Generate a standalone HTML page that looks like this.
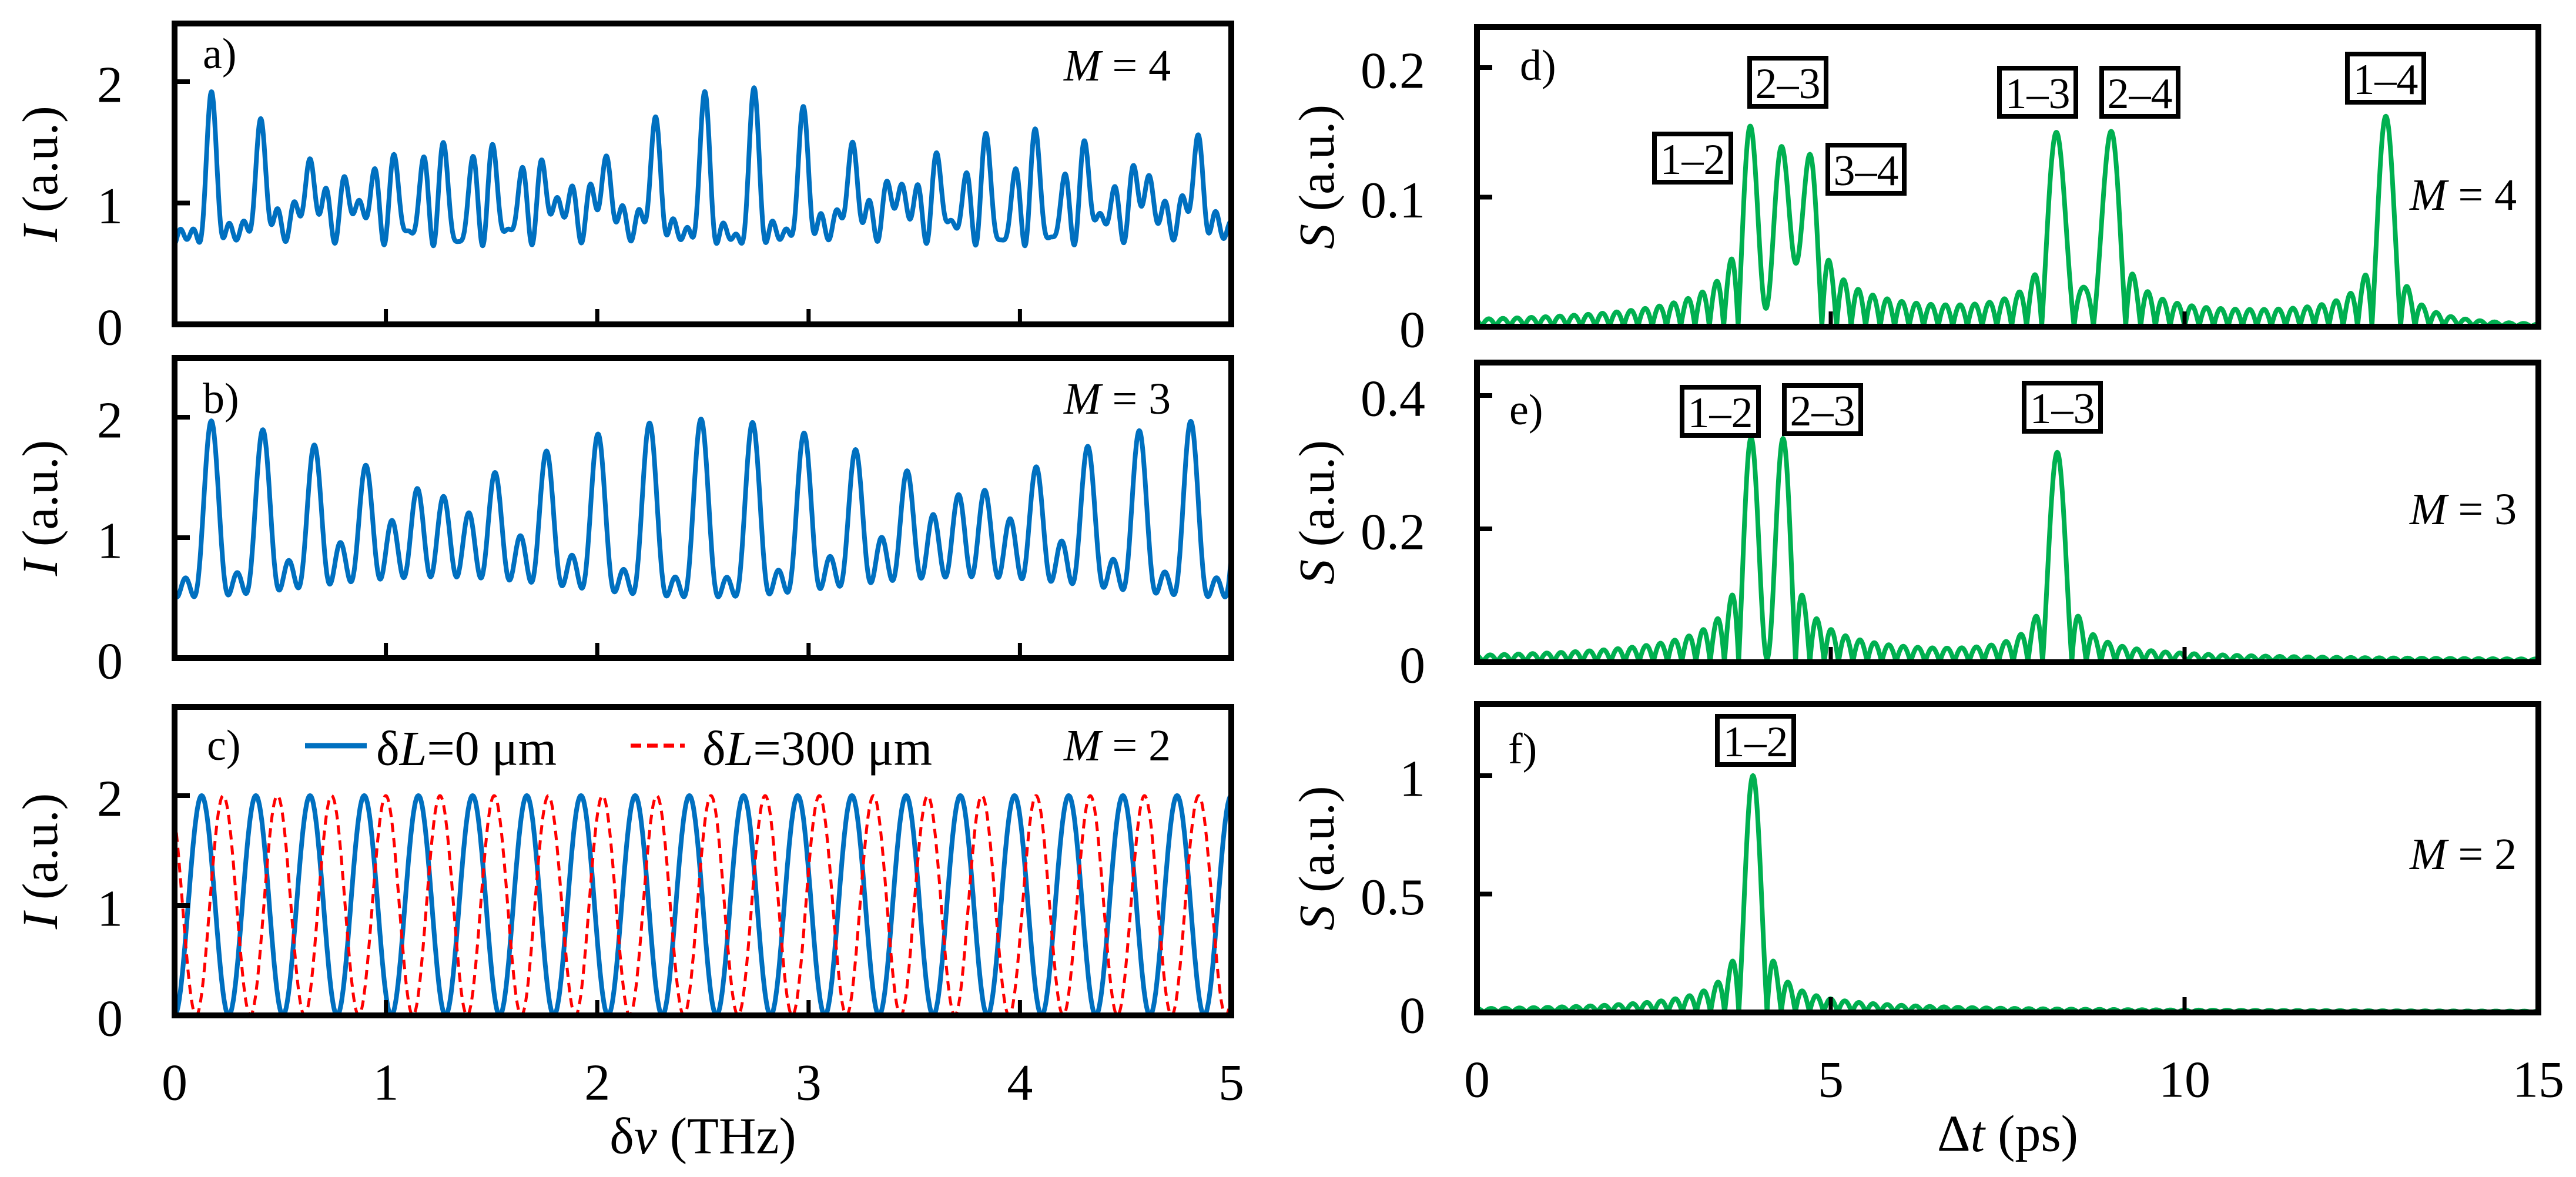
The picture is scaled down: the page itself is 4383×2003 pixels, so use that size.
<!DOCTYPE html>
<html><head><meta charset="utf-8"><style>
html,body{margin:0;padding:0;background:#fff;}
svg{display:block;}
text{font-family:"Liberation Serif",serif;fill:#000;}
</style></head><body>
<svg id="fig" width="4383" height="2003" viewBox="0 0 4383 2003" xmlns="http://www.w3.org/2000/svg"></svg>
<script>
// ---------- DATA ----------
const freqTicks = [0,1,2,3,4,5];
const timeTicks = [0,5,10,15];
// M=4 (panel a / d)
const pairLabelsM4 = ['1–2','2–3','3–4','1–3','2–4','1–4'];
const pairDelaysM4 = [3.9,4.3,4.65,8.2,8.95,12.85];
const pairAmpsM4 = [0.157,0.162,0.152,0.168,0.168,0.165];
const pairPhasesM4 = [1.571,1.571,1.571,3.142,3.142,4.712];
// M=3 (panel b / e)
const pairLabelsM3 = ['1–2','2–3','1–3'];
const pairDelaysM3 = [3.9,4.3,8.2];
const pairAmpsM3 = [0.33,0.33,0.325];
const pairPhasesM3 = [1.8,1.8,3.6];
// M=2 (panel c / f)
const pairLabelsM2 = ['1–2'];
const pairDelaysM2 = [3.9];
const pairAmpsM2 = [1.0];
const pairPhasesM2 = [3.1416];
const pairDelaysM2shift = [3.9];
const pairPhasesM2shift = [0.64];
const sincWidthPs = 0.2;

const yTicksA = [0,1,2], yTicksB=[0,1,2], yTicksC=[0,1,2];
const yTicksD = [0,0.1,0.2], yTicksE=[0,0.2,0.4], yTicksF=[0,0.5,1];
const yTickLabelsD=['0','0.1','0.2'], yTickLabelsE=['0','0.2','0.4'], yTickLabelsF=['0','0.5','1'];

// ---------- helpers ----------
const NS='http://www.w3.org/2000/svg';
const svg=document.getElementById('fig');
function mk(tag,attrs,parent){const e=document.createElementNS(NS,tag);for(const k in attrs)e.setAttribute(k,attrs[k]);(parent||svg).appendChild(e);return e;}
function txt(s,x,y,size,anchor,parent,style){const t=mk('text',{x:x,y:y,'font-size':size,'text-anchor':anchor||'middle','dominant-baseline':'central'},parent);if(style)t.setAttribute('style',style);t.innerHTML=s;return t;}

function intensity(nu,delays,amps,phases){let s=1;for(let i=0;i<delays.length;i++)s+=amps[i]*Math.cos(2*Math.PI*nu*delays[i]+phases[i]);return s;}
function sinc(x){if(Math.abs(x)<1e-9)return 1;return Math.sin(Math.PI*x)/(Math.PI*x);}
function spectrum(t,delays,amps){let s=0;for(let i=0;i<delays.length;i++)s+=amps[i]*sinc((t-delays[i])/sincWidthPs);return Math.abs(s);}

function makePanel(cfg){
  const g=mk('g',{});
  
  
  const sx=v=>cfg.x0+(v-cfg.xmin)/(cfg.xmax-cfg.xmin)*(cfg.x1-cfg.x0);
  const sy=v=>cfg.yz-v*cfg.ys;
  const cid='clip-'+cfg.name;
  const cp=mk('clipPath',{id:cid},g);mk('rect',{x:cfg.x0,y:cfg.top,width:cfg.x1-cfg.x0,height:cfg.yz-cfg.top},cp);
  cfg.series.forEach(s=>{
    let d='';
    for(let i=0;i<=s.n;i++){const v=cfg.xmin+(cfg.xmax-cfg.xmin)*i/s.n;const y=s.f(v);d+=(i?'L':'M')+sx(v).toFixed(1)+' '+sy(y).toFixed(1);}
    const p=mk('path',{d:d,fill:'none',stroke:s.color,'stroke-width':s.w,'stroke-linejoin':'round','clip-path':'url(#'+cid+')'},g);
    if(s.dash)p.setAttribute('stroke-dasharray',s.dash);
    
    
  });
  const fr=mk('rect',{x:cfg.x0,y:cfg.top,width:cfg.x1-cfg.x0,height:cfg.yz-cfg.top,fill:'none',stroke:'#000','stroke-width':10},g);
  
  
  cfg.xticks.forEach(v=>{if(v===cfg.xmin||v===cfg.xmax)return;const l=mk('line',{x1:sx(v),x2:sx(v),y1:cfg.yz,y2:cfg.yz-26,stroke:'#000','stroke-width':7},g);
    
    });
  cfg.yticks.forEach((v,i)=>{if(v!==0){const l=mk('line',{x1:cfg.x0,x2:cfg.x0+26,y1:sy(v),y2:sy(v),stroke:'#000','stroke-width':8},g);
    
    }
    const t=txt(cfg.ylabels?cfg.ylabels[i]:String(v),cfg.x0-88,sy(v)+6,88,'end',g);
    
    });
  const yt=mk('text',{x:0,y:0,'font-size':86,'text-anchor':'middle','dominant-baseline':'central',transform:'translate('+cfg.ytx+','+((cfg.top+cfg.yz)/2)+') rotate(-90)'},g);
  yt.innerHTML=cfg.ytitle;
  
  
  const pl=txt(cfg.label,cfg.lx,cfg.ly,74,'start',g);
  
  
  const ml=txt('<tspan font-style="italic">M</tspan> = '+cfg.M,cfg.mx,cfg.my,76,'start',g);
  
  
  (cfg.boxes||[]).forEach(b=>{
    const bg=mk('g',{},g);
    
    
    mk('rect',{x:b.x,y:b.y,width:130,height:82,fill:'#fff',stroke:'#000','stroke-width':8},bg);
    txt(b.t,b.x+65,b.y+44,74,'middle',bg);
  });
  return {g,sx,sy};
}

// ---------- left panels ----------
const L={x0:297,x1:2095,xmin:0,xmax:5,xticks:freqTicks,ytx:68,ytitle:'<tspan font-style="italic">I</tspan> (a.u.)'};
makePanel(Object.assign({},L,{name:'panel-a',top:40,yz:552,ys:206.5,yticks:yTicksA,label:'a)',lx:345,ly:92,M:4,mx:1810,my:112,
  series:[{name:'intensity-m4',color:'#0070C0',w:8,n:2500,f:v=>intensity(v,pairDelaysM4,pairAmpsM4,pairPhasesM4)}]}));
makePanel(Object.assign({},L,{name:'panel-b',top:609,yz:1120,ys:205,yticks:yTicksB,label:'b)',lx:345,ly:679,M:3,mx:1810,my:679,
  series:[{name:'intensity-m3',color:'#0070C0',w:8,n:2500,f:v=>intensity(v,pairDelaysM3,pairAmpsM3,pairPhasesM3)}]}));
makePanel(Object.assign({},L,{name:'panel-c',top:1203,yz:1728,ys:187,yticks:yTicksC,label:'c)',lx:352,ly:1269,M:2,mx:1810,my:1269,
  series:[{name:'intensity-m2-dl0',color:'#0070C0',w:8,n:2500,f:v=>intensity(v,pairDelaysM2,pairAmpsM2,pairPhasesM2)},
          {name:'intensity-m2-dl300',color:'#FF0000',w:5,dash:'16 10',n:2500,f:v=>intensity(v,pairDelaysM2shift,pairAmpsM2,pairPhasesM2shift)}]}));
(function(){
  const lg=mk('g',{});
  
  
  const a=mk('g',{},lg);
  
  
  mk('line',{x1:519,x2:624,y1:1269,y2:1269,stroke:'#0070C0','stroke-width':9},a);
  txt('δ<tspan font-style="italic">L</tspan>=0 μm',640,1274,84,'start',a);
  const b=mk('g',{},lg);
  
  
  mk('line',{x1:1073,x2:1165,y1:1269,y2:1269,stroke:'#FF0000','stroke-width':7,'stroke-dasharray':'18 10'},b);
  txt('δ<tspan font-style="italic">L</tspan>=300 μm',1195,1274,84,'start',b);
})();
freqTicks.forEach(v=>{const t=txt(String(v),297+v*359.6,1843,88,'middle');
  
  });
const xt1=txt('δ<tspan font-style="italic">ν</tspan> (THz)',1196,1934,88,'middle');



// ---------- right panels ----------
const R={x0:2513,x1:4319,xmin:0,xmax:15,xticks:timeTicks,ytx:2240,ytitle:'<tspan font-style="italic">S</tspan> (a.u.)'};
makePanel(Object.assign({},R,{name:'panel-d',top:46,yz:556,ys:2205,yticks:yTicksD,ylabels:yTickLabelsD,label:'d)',lx:2586,ly:112,M:4,mx:4100,my:332,
  boxes:[{t:pairLabelsM4[0],x:2815,y:228},{t:pairLabelsM4[1],x:2977,y:99},{t:pairLabelsM4[2],x:3110,y:247},{t:pairLabelsM4[3],x:3402,y:116},{t:pairLabelsM4[4],x:3576,y:116},{t:pairLabelsM4[5],x:3994,y:92}],
  series:[{name:'spectrum-m4',color:'#00B050',w:8,n:3000,f:v=>spectrum(v,pairDelaysM4,pairAmpsM4)}]}));
makePanel(Object.assign({},R,{name:'panel-e',top:617,yz:1127,ys:1135,yticks:yTicksE,ylabels:yTickLabelsE,label:'e)',lx:2568,ly:698,M:3,mx:4100,my:867,
  boxes:[{t:pairLabelsM3[0],x:2862,y:659},{t:pairLabelsM3[1],x:3036,y:656},{t:pairLabelsM3[2],x:3444,y:652}],
  series:[{name:'spectrum-m3',color:'#00B050',w:8,n:3000,f:v=>spectrum(v,pairDelaysM3,pairAmpsM3)}]}));
makePanel(Object.assign({},R,{name:'panel-f',top:1198,yz:1723,ys:403,yticks:yTicksF,ylabels:yTickLabelsF,label:'f)',lx:2566,ly:1275,M:2,mx:4100,my:1454,
  boxes:[{t:pairLabelsM2[0],x:2922,y:1219}],
  series:[{name:'spectrum-m2',color:'#00B050',w:8,n:3000,f:v=>spectrum(v,pairDelaysM2,pairAmpsM2)}]}));
timeTicks.forEach(v=>{const t=txt(String(v),2513+v*120.4,1838,88,'middle');
  
  });
const xt2=txt('Δ<tspan font-style="italic">t</tspan> (ps)',3416,1930,88,'middle');


</script>
</body></html>
